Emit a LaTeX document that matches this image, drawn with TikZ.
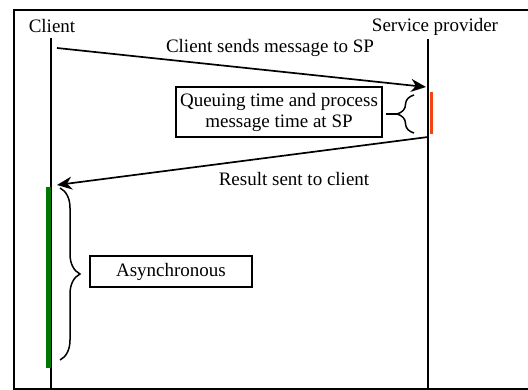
\documentclass[tikz,border=0pt]{standalone}
\usepackage{fontspec}
\setmainfont{Liberation Serif}
\usetikzlibrary{arrows.meta,decorations.pathreplacing}
\definecolor{barred}{RGB}{240,70,20}
\definecolor{bargreen}{RGB}{0,120,0}
\begin{document}
\begin{tikzpicture}[x=1pt,y=-1pt,
  txt/.style={font=\fontsize{19}{21}\selectfont},
  lbl/.style={txt, inner sep=0pt, anchor=base},
  box/.style={txt, draw, line width=1.8pt, align=center, inner sep=0pt},
  life/.style={line width=1.9pt},
  msg/.style={line width=1.7pt, -{Stealth[length=15pt,width=13pt]}},
  brc/.style={line width=1.5pt, decorate, decoration={brace, amplitude=#1}},
  tipline/.style={line width=1.5pt}]
\useasboundingbox (0,0) rectangle (528,390);
% frame
\draw[line width=2.2pt] (528,10) -- (14,10) -- (14,389) -- (528,389);
% lifelines
\coordinate (ctop) at (51,38);
\coordinate (cbot) at (51,389);
\coordinate (stop) at (428,39);
\coordinate (sbot) at (428,389);
\draw[life] (ctop) -- (cbot);
\draw[life] (stop) -- (sbot);
\node[lbl] (client) at (52,33) {Client};
\node[lbl] (sp) at (435,32) {Service provider};
% bars
\fill[barred] (429.5,92) rectangle (432.5,134);
\fill[bargreen] (46,187) rectangle (50.5,368);
% messages
\coordinate (m1s) at (57,48);
\coordinate (m1e) at (426,87);
\coordinate (m2s) at (428,137);
\coordinate (m2e) at (57,185);
\draw[msg] (m1s) -- (m1e);
\draw[msg] (m2s) -- (m2e);
\node[lbl] (l1) at (270,53) {Client sends message to SP};
\node[lbl] (l2) at (294,186) {Result sent to client};
% boxes
\node[box, minimum width=206pt, minimum height=50pt] (box1) at (279,112)
  {Queuing time and process\\message time at SP};
\node[box, minimum width=162pt, minimum height=31pt] (box2) at (171,271.5)
  {Asynchronous};
% braces
\coordinate (b1a) at (414,133);
\coordinate (b1b) at (414,95);
\draw[brc=17pt] (b1a) -- (b1b);
\coordinate (b1tip) at (397,114);
\coordinate (b1end) at (386,114);
\draw[tipline] (b1tip) -- (b1end);
\coordinate (b2a) at (60,188);
\coordinate (b2b) at (60,360);
\draw[brc=20pt] (b2a) -- (b2b);
\end{tikzpicture}
\end{document}
